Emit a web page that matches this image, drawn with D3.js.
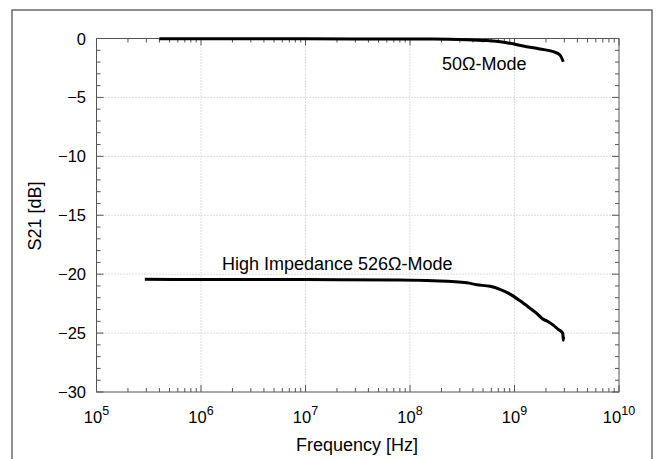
<!DOCTYPE html>
<meta charset="utf-8">
<title>S21 vs frequency</title>
<style>
body { margin: 0; background: #fff; }
svg { font-family: "Liberation Sans", Arial, sans-serif; }
.grid { stroke: #bbb; stroke-width: 1; stroke-dasharray: 1,2; }
.tick { stroke: #555; stroke-width: 1; }
.curve { fill: none; stroke: #000; stroke-width: 3; stroke-linejoin: round; }
</style>
<body>
<script src="https://cdn.jsdelivr.net/npm/d3@7"></script>
<script>

// values
var freq50 = [4e5, 1e6, 1e7, 8e7, 1.67e8, 3.5e8, 5.4e8, 7.3e8, 9.06e8, 1.21e9, 1.75e9, 2.35e9, 2.72e9, 2.93e9];
var s21_50 = [-0.02, -0.02, -0.03, -0.04, -0.04, -0.1, -0.18, -0.27, -0.41, -0.64, -0.89, -1.12, -1.4, -1.97];

var freq526 = [2.9e5, 1e6, 1e7, 8e7, 1.67e8, 3.5e8, 4.35e8, 5.83e8, 7.26e8, 9.06e8, 1.13e9, 1.41e9, 1.63e9,
               1.89e9, 2.03e9, 2.35e9, 2.62e9, 2.82e9, 2.9e9, 2.93e9, 2.95e9];
var s21_526 = [-20.44, -20.45, -20.46, -20.5, -20.56, -20.73, -20.9, -21.03, -21.29, -21.69, -22.26, -22.9, -23.33,
               -23.84, -23.96, -24.32, -24.69, -24.89, -25.05, -25.6, -25.3];

var yMajor = [0, -5, -10, -15, -20, -25, -30];
var xDecades = [5, 6, 7, 8, 9, 10];

var svg = d3.select('body').append('svg')
    .attr('width', 660)
    .attr('height', 459);

var x = d3.scaleLog().domain([1e5, 1e10]).range([96.5, 619]);
var y = d3.scaleLinear().domain([-30, 0]).range([392, 38.5]);

// outer frame
svg.append('rect')
    .attr('x', 12).attr('y', 10)
    .attr('width', 640).attr('height', 470)
    .attr('fill', 'none').attr('stroke', '#555').attr('stroke-width', 1.3);

// dotted grid
svg.selectAll('line.gx')
    .data(xDecades.slice(1, -1))
  .enter().append('line')
    .attr('class', 'grid')
    .attr('x1', d => x(Math.pow(10, d))).attr('x2', d => x(Math.pow(10, d)))
    .attr('y1', y(0)).attr('y2', y(-30));
svg.selectAll('line.gy')
    .data(yMajor.slice(1, -1))
  .enter().append('line')
    .attr('class', 'grid')
    .attr('x1', x(1e5)).attr('x2', x(1e10))
    .attr('y1', d => y(d)).attr('y2', d => y(d));

// ticks, inward on all four sides
var xMinor = [];
for (var e = 5; e < 10; e++)
  for (var m = 2; m < 10; m++) xMinor.push(m * Math.pow(10, e));
var yMinor = d3.range(-29, 0).filter(d => d % 5 !== 0);

function xTicks(vals, len) {
  [y(0), y(-30)].forEach(function (y0, i) {
    var dir = i === 0 ? 1 : -1;
    svg.append('g').selectAll('line')
        .data(vals)
      .enter().append('line')
        .attr('class', 'tick')
        .attr('x1', d => x(d)).attr('x2', d => x(d))
        .attr('y1', y0).attr('y2', y0 + dir * len);
  });
}
function yTicks(vals, len) {
  [x(1e5), x(1e10)].forEach(function (x0, i) {
    var dir = i === 0 ? 1 : -1;
    svg.append('g').selectAll('line')
        .data(vals)
      .enter().append('line')
        .attr('class', 'tick')
        .attr('y1', d => y(d)).attr('y2', d => y(d))
        .attr('x1', x0).attr('x2', x0 + dir * len);
  });
}
xTicks(xMinor, 4);
xTicks(xDecades.map(d => Math.pow(10, d)), 7);
yTicks(yMinor, 4);
yTicks(yMajor, 7);

// plot box
svg.append('rect')
    .attr('x', x(1e5)).attr('y', y(0))
    .attr('width', x(1e10) - x(1e5)).attr('height', y(-30) - y(0))
    .attr('fill', 'none').attr('stroke', '#555').attr('stroke-width', 1);

// curves
var line = d3.line()
    .x(d => x(d[0]))
    .y(d => y(d[1]))
    .curve(d3.curveMonotoneX);

svg.append('path')
    .attr('class', 'curve')
    .attr('d', line(d3.zip(freq50, s21_50)));
svg.append('path')
    .attr('class', 'curve')
    .attr('d', line(d3.zip(freq526, s21_526)));

// tick labels
svg.selectAll('text.yl')
    .data(yMajor)
  .enter().append('text')
    .attr('x', 86)
    .attr('y', d => y(d) + 6)
    .attr('text-anchor', 'end')
    .attr('font-size', 16.5)
    .text(d => d < 0 ? '\u2212' + (-d) : d);

var xl = svg.selectAll('text.xl')
    .data(xDecades)
  .enter().append('text')
    .attr('x', d => x(Math.pow(10, d)))
    .attr('y', 423)
    .attr('text-anchor', 'middle')
    .attr('font-size', 16.5);
xl.append('tspan').text('10');
xl.append('tspan').attr('dy', -8).attr('font-size', 12.5).text(d => d);

// annotations and axis titles
svg.append('text')
    .attr('x', 442).attr('y', 70)
    .attr('font-size', 18)
    .text('50Ω-Mode');
svg.append('text')
    .attr('x', 222).attr('y', 270)
    .attr('font-size', 18)
    .text('High Impedance 526Ω-Mode');

svg.append('text')
    .attr('x', 357).attr('y', 451)
    .attr('text-anchor', 'middle')
    .attr('font-size', 18)
    .text('Frequency [Hz]');
svg.append('text')
    .attr('transform', 'translate(41,216) rotate(-90)')
    .attr('text-anchor', 'middle')
    .attr('font-size', 18)
    .text('S21 [dB]');

</script>
